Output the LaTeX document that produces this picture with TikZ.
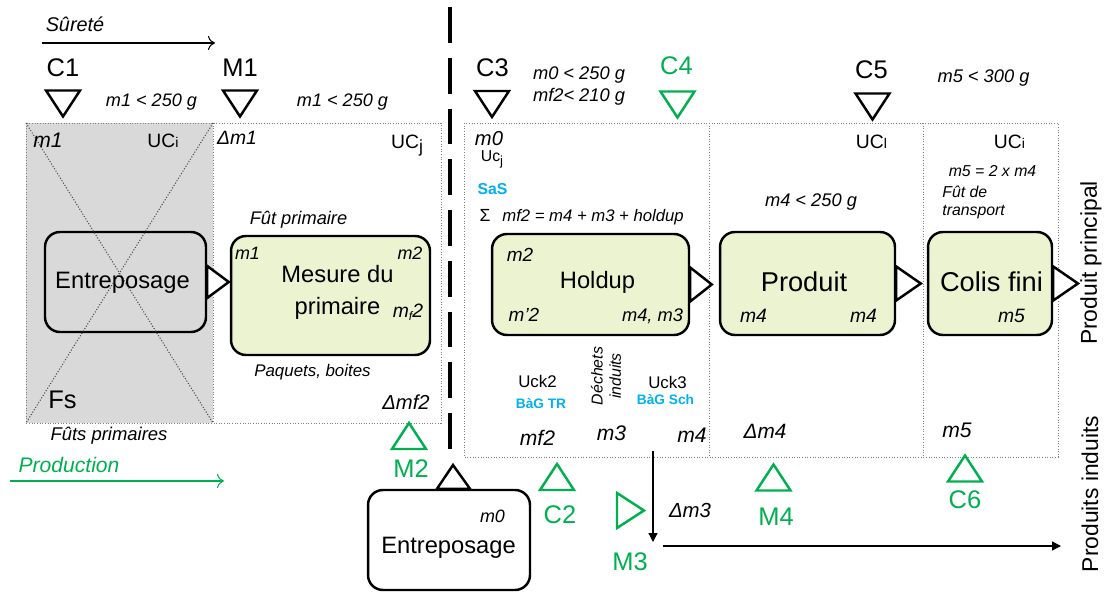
\documentclass[tikz,border=0pt]{standalone}
\usepackage{fontspec}
\setmainfont{Liberation Sans}
\usetikzlibrary{arrows.meta,calc}
\definecolor{grn}{RGB}{0,176,80}
\definecolor{cyn}{RGB}{0,176,240}
\definecolor{boxfill}{RGB}{235,243,208}
\definecolor{zgray}{RGB}{217,217,217}
\newcommand{\fsz}[1]{\fontsize{#1}{#1}\selectfont}
\newcommand{\tdn}[3]{\draw[mk,#1] (#2-17,#3-13) -- (#2+17,#3-13) -- (#2,#3+13) -- cycle;}
\newcommand{\tup}[3]{\draw[mk,#1] (#2-17,#3+13) -- (#2+17,#3+13) -- (#2,#3-13) -- cycle;}
\begin{document}
\begin{tikzpicture}[x=0.02cm,y=-0.02cm,
  t/.style={inner sep=0pt,anchor=base},
  lab/.style={t,font=\fsz{14.5}},
  mk/.style={line width=1.4pt,line join=miter},
  box/.style={draw,line width=1.4pt,rounded corners=8.5pt,inner sep=0pt},
  zone/.style={draw=black!50,densely dotted,line width=0.5pt},
  opentri/.style={draw,fill=white,line width=1.4pt,line join=miter},
  arr/.style={-{Triangle[length=5pt,width=5pt]},line width=0.7pt},
  chev/.style={-{To[length=4pt,width=8pt]},line width=0.6pt}
]
\useasboundingbox (0,0) rectangle (1105,594);

% zones
\fill[zgray] (26,123) rectangle (213,423);
\draw[zone] (26,123) rectangle (441,423);
\draw[zone] (213,123) -- (213,423);
\draw[zone] (464,123) rectangle (1058,457);
\draw[zone] (709,123) -- (709,457) (923,123) -- (923,457);

% boxes
\node[box,minimum width=3.22cm,minimum height=2cm] (ent1) at (125.5,282) {};
\node[box,fill=boxfill,minimum width=3.98cm,minimum height=2.38cm] (mes) at (330.5,295.5) {};
\node[box,fill=boxfill,minimum width=3.94cm,minimum height=2.02cm] (hold) at (590.5,284.5) {};
\node[box,fill=boxfill,minimum width=3.5cm,minimum height=2.06cm] (prod) at (807.5,283.5) {};
\node[box,fill=boxfill,minimum width=2.48cm,minimum height=2.06cm] (colis) at (990,283.5) {};
\node[box,fill=white,minimum width=3.24cm,minimum height=2cm] (ent2) at (449,540) {};

% cross over the storage zone
\draw[black!70,densely dotted,line width=0.6pt] (26,123) -- (213,423) (213,123) -- (26,423);

% dashed separator
\coordinate (dtop) at (450,7);
\coordinate (dbot) at (450,452);
\draw[line width=2.5pt,dash pattern=on 20.4pt off 8.5pt] (dtop) -- (dbot);

% connector triangles
\draw[opentri] ($(ent1.east)+(0,-16)$) -- ($(mes.west |- ent1.east)+(-1,0)$) -- ($(ent1.east)+(0,16)$) -- cycle;
\draw[opentri] ($(hold.east)+(0,-17)$) -- ($(prod.west |- hold.east)+(-7,0)$) -- ($(hold.east)+(0,17)$) -- cycle;
\draw[opentri] ($(prod.east)+(0,-17)$) -- ($(colis.west |- prod.east)+(-6,0)$) -- ($(prod.east)+(0,17)$) -- cycle;
\coordinate (pp) at (1078,283.5);
\draw[opentri] ($(colis.east)+(0,-17)$) -- (pp) -- ($(colis.east)+(0,17)$) -- cycle;
\coordinate (e2tip) at (453,465);
\draw[opentri] ($(ent2.north)+(-12,0)$) -- (e2tip) -- ($(ent2.north)+(21,0)$) -- cycle;

% flow arrows
\coordinate (s1) at (42,43); \coordinate (s2) at (215,43);
\draw[chev] (s1) -- (s2);
\coordinate (p1) at (10,481); \coordinate (p2) at (224,481);
\draw[chev,grn] (p1) -- (p2);
\coordinate (d1) at (653,451); \coordinate (d2) at (653,542);
\draw[arr] (d1) -- (d2);
\coordinate (l1) at (663,546); \coordinate (l2) at (1061,546);
\draw[arr] (l1) -- (l2);

% markers
\tdn{black}{63}{103.5}
\tdn{black}{240}{103.5}
\tdn{black}{492}{104}
\tdn{grn}{677.5}{104.5}
\tdn{black}{872.5}{106.5}
\tup{grn}{409}{436}
\tup{grn}{557}{477}
\tup{grn}{773.5}{477.5}
\tup{grn}{965}{468.5}
\draw[mk,grn] (617,493) -- (644,510.5) -- (617,528) -- cycle;

% marker labels
\node[lab] (c1) at (63,77) {C1};
\node[lab] (m1) at (240,77) {M1};
\node[lab] (c3) at (492.5,77) {C3};
\node[lab,text=grn] (c4) at (676.5,75) {C4};
\node[lab] (c5) at (871.5,79) {C5};
\node[lab,text=grn] (m2) at (411,477) {M2};
\node[lab,text=grn] (c2) at (560,523) {C2};
\node[lab,text=grn] (m3) at (630,570) {M3};
\node[lab,text=grn] (m4) at (776,525) {M4};
\node[lab,text=grn] (c6) at (965,508) {C6};

% top texts
\node[t,font=\fsz{11.3}\itshape] (surete) at (75,32) {Sûreté};
\node[t,font=\fsz{10.3}\itshape] (lim1) at (151.5,107) {m1 < 250 g};
\node[t,font=\fsz{10.3}\itshape] (lim2) at (342.5,107) {m1 < 250 g};
\node[t,font=\fsz{10.4}\itshape] (lim3) at (579,80) {m0 < 250 g};
\node[t,font=\fsz{10.4}\itshape] (lim4) at (579,102) {mf2< 210 g};
\node[t,font=\fsz{10.4}\itshape] (lim5) at (983.5,83) {m5 < 300 g};
\node[t,font=\fsz{10.4}\itshape] (lim6) at (811,207) {m4 < 250 g};

% left zone texts
\node[t,font=\fsz{12}\itshape] (a1) at (48,148) {m1};
\node[t,font=\fsz{11}] (a2) at (163,148) {UC{\fsz{8}i}};
\node[t,font=\fsz{11}\itshape] (a3) at (237,145) {Δm1};
\node[t,font=\fsz{11}] (a4) at (407,149) {UC\raisebox{-2pt}{\fsz{10}j}};
\node[t,font=\fsz{10.4}\itshape] (a5) at (298.5,225) {Fût primaire};
\node[t,font=\fsz{13.5}] (a6) at (122.5,289) {Entreposage};
\node[t,font=\fsz{10.2}\itshape] (a7) at (247.5,260) {m1};
\node[t,font=\fsz{10.2}\itshape] (a8) at (410,260) {m2};
\node[t,font=\fsz{13.5}] (a9) at (337.5,283) {Mesure du};
\node[t,font=\fsz{13.5}] (a10) at (337.5,315) {primaire};
\node[t,font=\fsz{11}\itshape] (a11) at (408,317) {m\raisebox{-2pt}{\fsz{7}f}2};
\node[t,font=\fsz{9.6}\itshape] (a12) at (312.5,377) {Paquets, boites};
\node[t,font=\fsz{14.5}] (a13) at (62.5,408) {Fs};
\node[t,font=\fsz{11.5}\itshape] (a14) at (406,409) {Δmf2};
\node[t,font=\fsz{10.5}\itshape] (a15) at (109,440) {Fûts primaires};
\node[t,font=\fsz{12}\itshape,text=grn] (a16) at (69,472) {Production};

% right zone texts
\node[t,font=\fsz{11.5}\itshape] (b1) at (489,146) {m0};
\node[t,font=\fsz{9}] (b2) at (492,162) {Uc\raisebox{-2pt}{\fsz{7.5}j}};
\node[t,font=\fsz{9}\bfseries,text=cyn] (b3) at (492.5,195) {SaS};
\node[t,font=\fsz{10}] (b4) at (485,222) {Σ};
\node[t,font=\fsz{9.5}\itshape,anchor=base west] (b5) at (502,222) {mf2 = m4 + m3 + holdup};
\node[t,font=\fsz{10.8}\itshape] (b6) at (520,262) {m2};
\node[t,font=\fsz{13.5}] (b7) at (597.5,289) {Holdup};
\node[t,font=\fsz{10.8}\itshape] (b8) at (524,322) {m’2};
\node[t,font=\fsz{10.4}\itshape] (b9) at (652.5,322) {m4, m3};
\node[t,font=\fsz{11}] (b10) at (871.5,149) {UC{\fsz{8}l}};
\node[t,font=\fsz{11}] (b11) at (1009.5,149) {UC{\fsz{8}i}};
\node[t,font=\fsz{9}\itshape] (b12) at (992.5,177) {m5 = 2 x m4};
\node[t,font=\fsz{9}\itshape,anchor=base west] (b13) at (942,198) {Fût de};
\node[t,font=\fsz{9}\itshape,anchor=base west] (b14) at (942,216) {transport};
\node[t,font=\fsz{15.5}] (b15) at (804,292) {Produit};
\node[t,font=\fsz{11}\itshape] (b16) at (753.5,323) {m4};
\node[t,font=\fsz{11}\itshape] (b17) at (863.5,323) {m4};
\node[t,font=\fsz{15.5}] (b18) at (991.5,292) {Colis fini};
\node[t,font=\fsz{11}\itshape] (b19) at (1011.5,323) {m5};
\node[t,font=\fsz{9.6}] (b20) at (537.5,387) {Uck2};
\node[t,font=\fsz{7.8}\bfseries,text=cyn] (b21) at (541,408) {BàG TR};
\node[rotate=90,align=center,font=\fontsize{9}{10.5}\selectfont\itshape,inner sep=0pt] (b22) at (606,376) {Déchets\\induits};
\node[t,font=\fsz{9.6}] (b23) at (667.5,388) {Uck3};
\node[t,font=\fsz{7.8}\bfseries,text=cyn] (b24) at (665.5,404) {BàG Sch};
\node[t,font=\fsz{12}\itshape] (b25) at (537.5,445) {mf2};
\node[t,font=\fsz{12}\itshape] (b26) at (611.5,440) {m3};
\node[t,font=\fsz{12}\itshape] (b27) at (692,442) {m4};
\node[t,font=\fsz{11.8}\itshape] (b28) at (765,438) {Δm4};
\node[t,font=\fsz{12}\itshape] (b29) at (957,437) {m5};
\node[t,font=\fsz{11.6}\itshape] (b30) at (690,517) {Δm3};
\node[t,font=\fsz{10.2}\itshape] (b31) at (492.5,522) {m0};
\node[t,font=\fsz{13.5}] (b32) at (448.5,553) {Entreposage};
\node[rotate=90,font=\fsz{13},inner sep=0pt] (b33) at (1091,263) {Produit principal};
\node[rotate=90,font=\fsz{13},inner sep=0pt] (b34) at (1090,494) {Produits induits};
\end{tikzpicture}
\end{document}
